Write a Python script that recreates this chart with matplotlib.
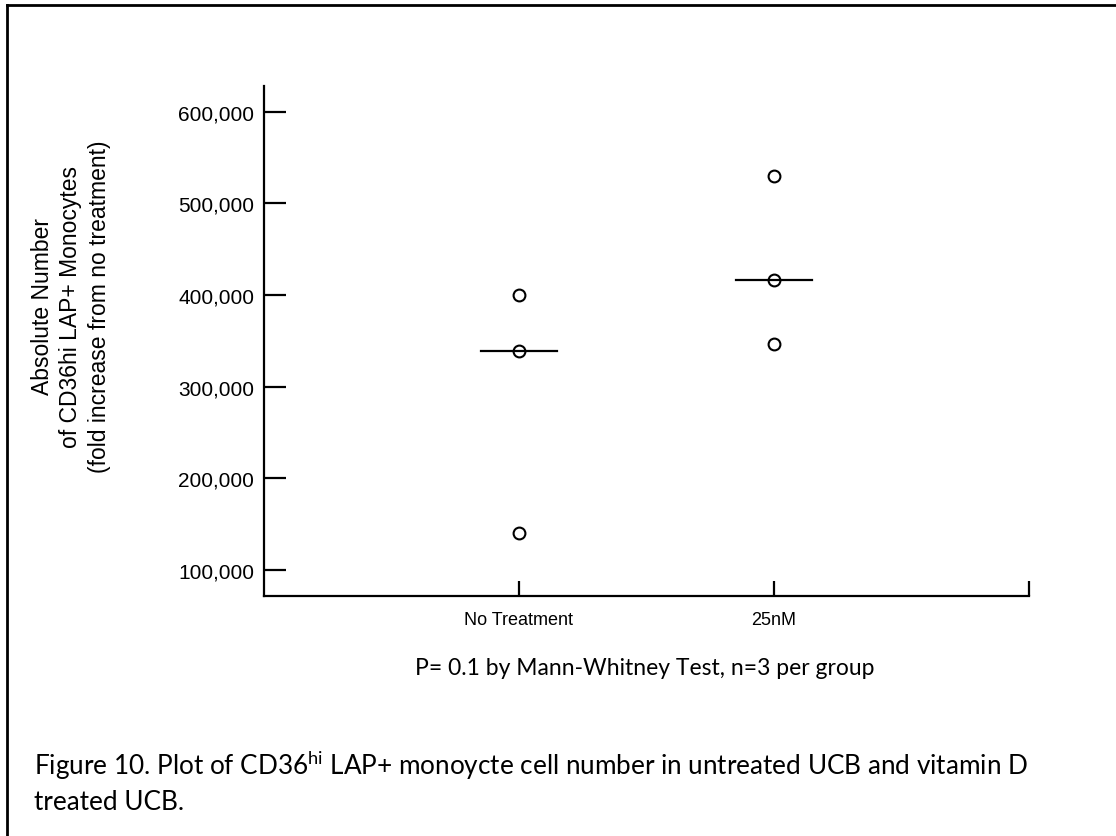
import matplotlib
matplotlib.use('Agg')
import matplotlib.pyplot as plt
from matplotlib.lines import Line2D

plt.rcParams['mathtext.fontset'] = 'custom'
plt.rcParams['mathtext.rm'] = 'Lato'

groups = ['No Treatment', '25nM']
no_treatment = [400000, 339000, 140000]
nm25 = [529500, 416500, 347000]
medians = [339000, 416500]
y_ticks = [100000, 200000, 300000, 400000, 500000, 600000]

W, H = 1116, 837
fig = plt.figure(figsize=(W / 100, H / 100), dpi=100)
ax = fig.add_axes([264 / W, 1 - 597 / H, (1029 - 264) / W, (597 - 87) / H])

pos = [1, 2]
for p, vals in zip(pos, [no_treatment, nm25]):
    ax.plot([p] * len(vals), vals, linestyle='none', marker='o', markersize=8.5,
            markerfacecolor='none', markeredgecolor='black', markeredgewidth=1.5,
            clip_on=False)
for p, m in zip(pos, medians):
    ax.plot([p - 0.15, p + 0.15], [m, m], color='black', linewidth=1.6)

ax.set_xlim(0, 3)
ax.set_ylim(71650, 628000)
ax.spines['top'].set_visible(False)
ax.spines['right'].set_visible(False)
ax.spines['left'].set_linewidth(1.6)
ax.spines['bottom'].set_linewidth(1.6)

ax.set_yticks(y_ticks)
ax.set_yticklabels([f'{v:,}' for v in y_ticks], fontsize=15,
                   family='Liberation Sans')
ax.set_xticks([1, 2, 3])
ax.set_xticklabels(groups + [''], fontsize=13, family='Liberation Sans')
ax.tick_params(axis='y', direction='in', length=16, width=1.6, pad=7)
ax.tick_params(axis='x', direction='in', length=11, width=1.6, pad=11)

fig.text(71 / W, 1 - 307 / H,
         'Absolute Number\nof CD36hi LAP+ Monocytes\n(fold increase from no treatment)',
         rotation=90, ha='center', va='center', fontsize=16.5,
         family='Liberation Sans', linespacing=1.3, multialignment='center')

fig.text(645 / W, 1 - 675 / H, 'P= 0.1 by Mann-Whitney Test, n=3 per group',
         ha='center', va='baseline', fontsize=16.5, family='Lato')

fig.text(34 / W, 1 - 775 / H,
         'Figure 10. Plot of CD36$^{\\mathrm{hi}}$ LAP+ monoycte cell number in untreated UCB and vitamin D',
         ha='left', va='baseline', fontsize=18.8, family='Lato')
fig.text(34 / W, 1 - 810 / H, 'treated UCB.',
         ha='left', va='baseline', fontsize=18.8, family='Lato')

# page border (left and top edges visible)
fig.add_artist(Line2D([7 / W, 7 / W], [0, 1 - 6 / H], color='black',
                      linewidth=2, transform=fig.transFigure))
fig.add_artist(Line2D([7 / W, 1], [1 - 6 / H, 1 - 6 / H], color='black',
                      linewidth=2, transform=fig.transFigure))

fig.savefig('out.png', dpi=100)
